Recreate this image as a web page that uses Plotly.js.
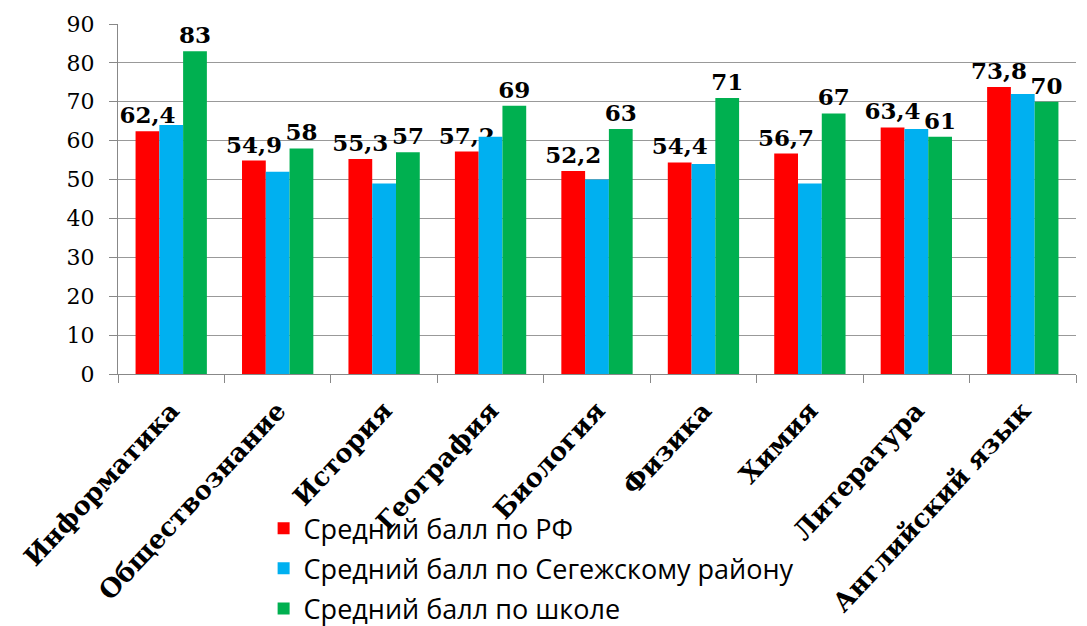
<!DOCTYPE html>
<html>
<head>
<meta charset="utf-8">
<script src="https://cdn.plot.ly/plotly-3.0.1.min.js"></script>
<style>html,body{margin:0;padding:0;background:#fff;}#chart{width:1087px;height:626px;}</style>
</head>
<body>
<div id="chart"></div>
<script>
const categories = ["Информатика","Обществознание","История","География","Биология","Физика","Химия","Литература","Английский язык"];
const seriesNames = ["Средний балл по РФ","Средний балл по Сегежскому району","Средний балл по школе"];
const rfValues = [62.4, 54.9, 55.3, 57.2, 52.2, 54.4, 56.7, 63.4, 73.8];
const districtValues = [64, 52, 49, 61, 50, 54, 49, 63, 72];
const schoolValues = [83, 58, 57, 69, 63, 71, 67, 61, 70];
const yTicks = [0,10,20,30,40,50,60,70,80,90];

const labelFont = {family: "DejaVu Serif, serif", size: 23, color: "#000", weight: "bold"};

const traces = [
  {type:"bar", name: seriesNames[0], x: categories, y: rfValues, legendgroup:"a",
   marker:{color:"#FF0000"}, texttemplate:"%{y:.1f}", textposition:"outside", constraintext:"none",
   textfont: labelFont, cliponaxis:false},
  {type:"bar", name: seriesNames[1], x: categories, y: districtValues, legendgroup:"b",
   marker:{color:"#00B0F0"}, textposition:"none"},
  {type:"bar", name: seriesNames[2], x: categories, y: schoolValues, legendgroup:"c",
   marker:{color:"#00B050"}, texttemplate:"%{y}", textposition:"outside", constraintext:"none",
   textfont: labelFont, cliponaxis:false}
];

const layout = {
  width:1087, height:626,
  margin:{l:118, r:11, t:24, b:252, autoexpand:false},
  paper_bgcolor:"#fff", plot_bgcolor:"#fff",
  separators:", ",
  barmode:"group", bargap:0.33, bargroupgap:0,
  showlegend:true,
  legend:{x:0.152, y:-0.372, xanchor:"left", yanchor:"top", orientation:"v",
          font:{family:"Open Sans", size:27, color:"#000"}, tracegroupgap:2,
          itemwidth:30, bgcolor:"rgba(0,0,0,0)"},
  xaxis:{tickangle:-47, tickfont:{family:"DejaVu Serif, serif", size:26, color:"#000", weight:"bold"},
         showline:true, linecolor:"#888", linewidth:1, ticks:"outside", tickson:"boundaries",
         ticklen:8, tickcolor:"#888", showgrid:false, automargin:false, ticklabelstandoff:10},
  yaxis:{range:[0,90], tickvals:yTicks, ticktext:yTicks.map(String),
         tickfont:{family:"DejaVu Serif, serif", size:22, color:"#000"},
         showline:true, linecolor:"#888", linewidth:1, ticks:"outside", ticklen:8, tickcolor:"#888",
         ticklabelstandoff:10,
         showgrid:true, gridcolor:"#999", gridwidth:1, zeroline:false, automargin:false}
};

Plotly.newPlot("chart", traces, layout, {displayModeBar:false, staticPlot:true});
</script>
</body>
</html>
